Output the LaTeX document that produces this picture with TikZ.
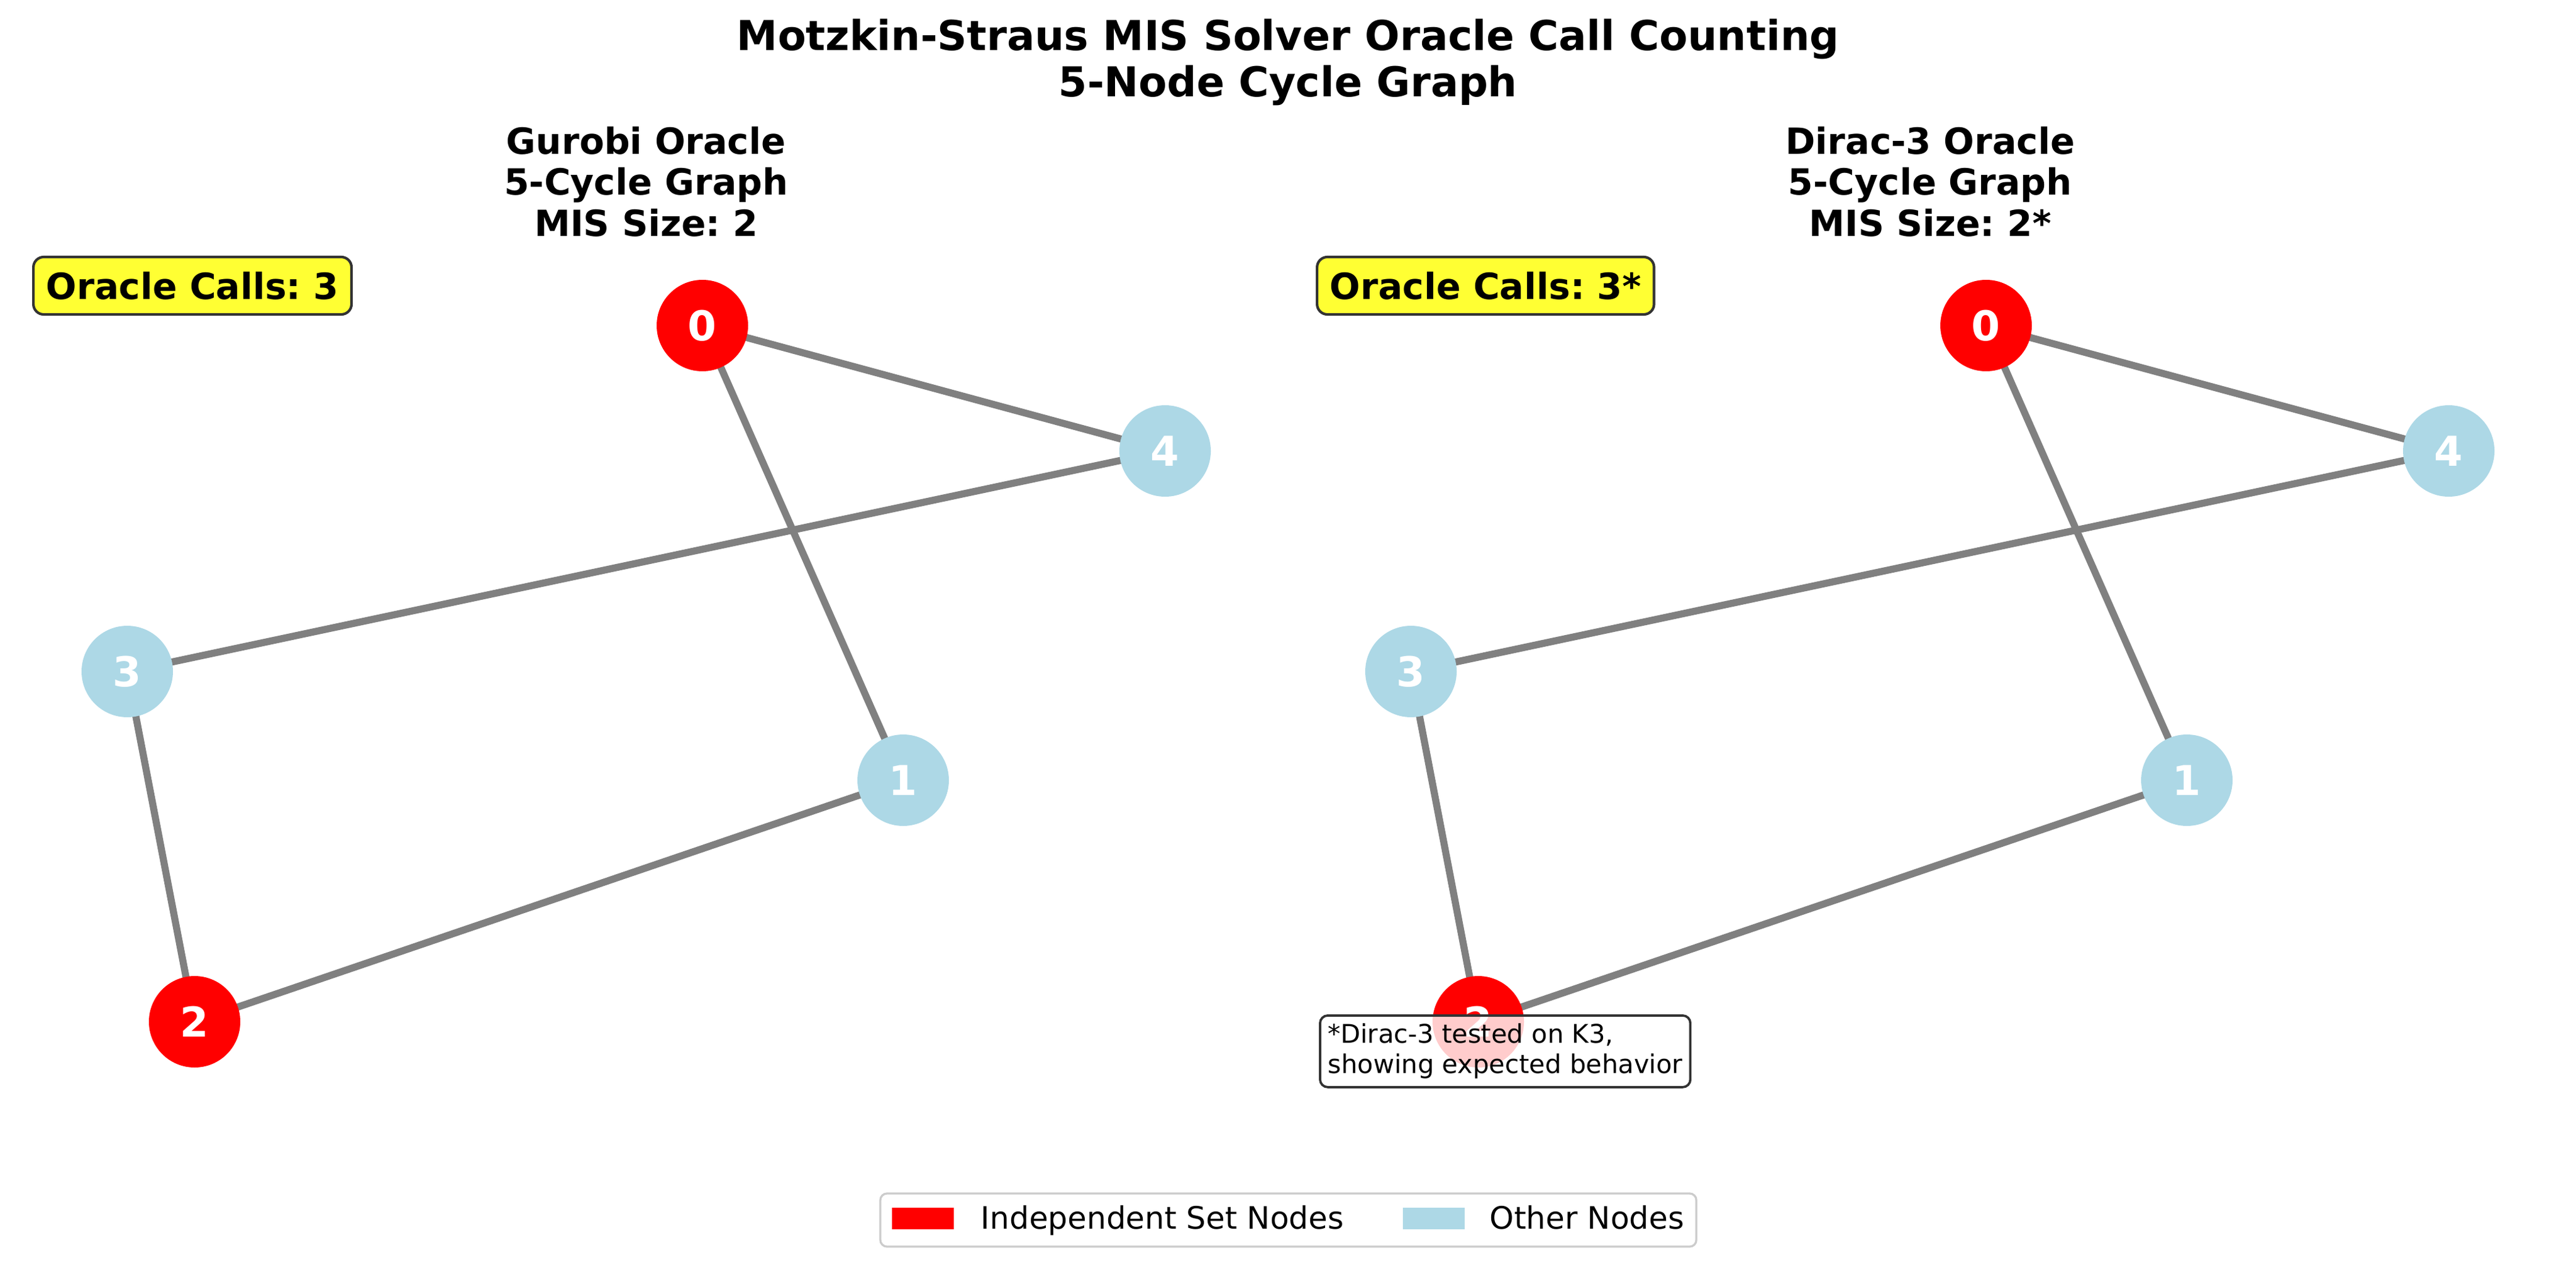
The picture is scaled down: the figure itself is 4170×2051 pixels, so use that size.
\documentclass[tikz,border=0pt]{standalone}
\usepackage{fontspec}
\setmainfont{DejaVu Sans}
\frenchspacing
\usetikzlibrary{backgrounds}
\definecolor{misred}{HTML}{FF0000}
\definecolor{othblue}{HTML}{ADD8E6}
\definecolor{edgegray}{HTML}{808080}
\definecolor{callyellow}{HTML}{FFFF33}
\definecolor{boxedge}{HTML}{333333}
\definecolor{legedge}{HTML}{CCCCCC}
\begin{document}
\begin{tikzpicture}[x=0.24pt,y=-0.24pt,
  vtx/.style={circle, minimum size=35.52pt, inner sep=0pt, text=white,
    font=\fontsize{16}{19}\selectfont\bfseries},
  misnode/.style={vtx, fill=misred},
  othnode/.style={vtx, fill=othblue},
  edgeline/.style={draw=edgegray, line width=2.75pt},
  suptitle/.style={anchor=base, inner sep=0pt, font=\fontsize{16}{19}\selectfont\bfseries},
  subtitle/.style={anchor=base, inner sep=0pt, font=\fontsize{14}{16}\selectfont\bfseries},
  callbox/.style={anchor=west, fill=callyellow, draw=boxedge, line width=1pt,
    rounded corners=4pt, inner xsep=5pt, inner ysep=0pt, minimum height=22.32pt,
    font=\fontsize{14}{16}\selectfont\bfseries},
  notebox/.style={anchor=north west, fill=white, fill opacity=0.8, text opacity=1,
    draw=boxedge, draw opacity=1, line width=0.9pt, rounded corners=3pt,
    inner xsep=3pt, inner ysep=0pt, minimum height=27.84pt, align=left,
    font=\fontsize{10}{11.8}\selectfont},
  legtext/.style={anchor=base west, inner sep=0pt, font=\fontsize{12}{14}\selectfont}
]
\useasboundingbox (0,0) rectangle (4170,2051);

% figure title
\node[suptitle] (sup1) at (2085,82) {Motzkin-Straus MIS Solver Oracle Call Counting};
\node[suptitle] (sup2) at (2085,157) {5-Node Cycle Graph};

% left panel titles
\node[subtitle] (lt1) at (1046,250) {Gurobi Oracle};
\node[subtitle] (lt2) at (1046,316) {5-Cycle Graph};
\node[subtitle] (lt3) at (1046,383) {MIS Size: 2};

% right panel titles
\node[subtitle] (rt1) at (3124.5,250) {Dirac-3 Oracle};
\node[subtitle] (rt2) at (3124.5,316) {5-Cycle Graph};
\node[subtitle] (rt3) at (3124.5,383) {MIS Size: 2*};

% oracle call boxes
\node[callbox] (lcalls) at (52,462.5) {Oracle Calls: 3};
\node[callbox] (rcalls) at (2130,462.5) {Oracle Calls: 3*};

% left graph
\node[misnode] (L0) at (1137,527) {0};
\node[othnode] (L1) at (1462,1263) {1};
\node[misnode] (L2) at (315,1654) {2};
\node[othnode] (L3) at (206,1087) {3};
\node[othnode] (L4) at (1886,730) {4};

% right graph
\node[misnode] (R0) at (3215,527) {0};
\node[othnode] (R1) at (3540,1263) {1};
\node[misnode] (R2) at (2393,1654) {2};
\node[othnode] (R3) at (2284,1087) {3};
\node[othnode] (R4) at (3964,730) {4};

\begin{scope}[on background layer]
  \draw[edgeline] (L0.center) -- (L1.center);
  \draw[edgeline] (L1.center) -- (L2.center);
  \draw[edgeline] (L2.center) -- (L3.center);
  \draw[edgeline] (L3.center) -- (L4.center);
  \draw[edgeline] (L4.center) -- (L0.center);
  \draw[edgeline] (R0.center) -- (R1.center);
  \draw[edgeline] (R1.center) -- (R2.center);
  \draw[edgeline] (R2.center) -- (R3.center);
  \draw[edgeline] (R3.center) -- (R4.center);
  \draw[edgeline] (R4.center) -- (R0.center);
\end{scope}

% note box
\node[notebox] (note) at (2135,1642) {*Dirac-3 tested on K3,\\showing expected behavior};

% legend
\draw[legedge, line width=0.8pt, rounded corners=2.6pt, fill=white] (1425,1932) rectangle (2746,2018);
\fill[misred] (1444,1955) rectangle (1544,1990);
\fill[othblue] (2271,1955) rectangle (2371,1990);
\node[legtext] (legmis) at (1587,1989) {Independent Set Nodes};
\node[legtext] (legoth) at (2411,1989) {Other Nodes};
\end{tikzpicture}
\end{document}
